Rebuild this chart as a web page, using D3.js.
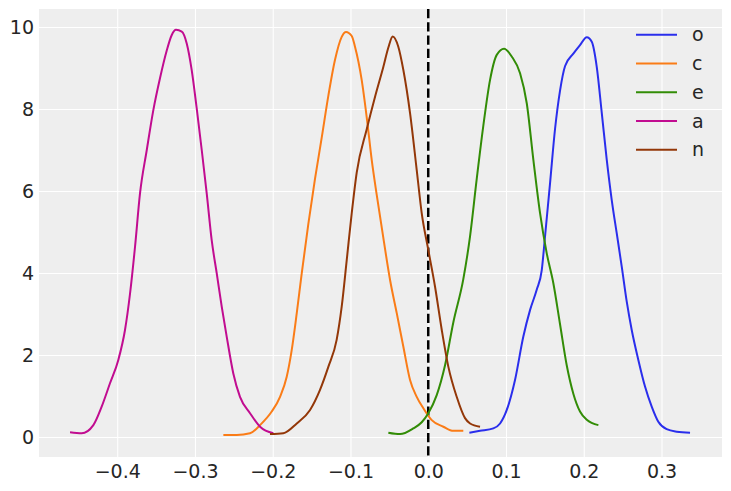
<!DOCTYPE html>
<html>
<head>
<meta charset="utf-8">
<script src="https://cdn.jsdelivr.net/npm/d3@7"></script>
<style>
  body { margin: 0; background: #ffffff; }
  svg { display: block; font-family: "DejaVu Sans", sans-serif; }
</style>
</head>
<body>
<div id="chart"></div>
<script>
var width = 731;
var height = 491;
var margin = {top: 9, right: 9, bottom: 34, left: 39};

// series names and colours (arviz palette)
var names = ["o", "c", "e", "a", "n"];
var colors = ["#2a2eec", "#fa7c17", "#328c06", "#c10c90", "#933708"];

var xTicks = [-0.4, -0.3, -0.2, -0.1, 0.0, 0.1, 0.2, 0.3];
var yTicks = [0, 2, 4, 6, 8, 10];

// kde curves
var oX = [0.0529, 0.0666, 0.0837, 0.0924, 0.101, 0.1116, 0.1223, 0.131, 0.1395, 0.146, 0.1502, 0.1567, 0.163, 0.1695, 0.176, 0.1866, 0.1952, 0.2039, 0.2103, 0.2167, 0.2232, 0.2296, 0.236, 0.2424, 0.2489, 0.2553, 0.2617, 0.2702, 0.2788, 0.2874, 0.2959, 0.3067, 0.3196, 0.3367];
var oY = [0.105, 0.15, 0.21, 0.33, 0.66, 1.39, 2.45, 3.1, 3.59, 4.07, 4.89, 6.2, 7.5, 8.45, 9.05, 9.35, 9.56, 9.75, 9.64, 9.03, 7.9, 6.76, 5.78, 4.97, 4.15, 3.3, 2.61, 1.88, 1.23, 0.74, 0.37, 0.19, 0.13, 0.105];

var cX = [-0.2635, -0.2463, -0.2292, -0.2163, -0.2013, -0.1906, -0.182, -0.1756, -0.1691, -0.1627, -0.1542, -0.1456, -0.137, -0.1285, -0.1199, -0.1113, -0.1057, -0.0984, -0.0942, -0.0856, -0.0792, -0.0727, -0.0662, -0.0577, -0.0491, -0.0405, -0.032, -0.0234, -0.0148, -0.0063, 0.0045, 0.0194, 0.0323, 0.0451];
var cY = [0.05, 0.05, 0.09, 0.29, 0.62, 0.98, 1.47, 2.12, 3.02, 3.99, 5.2, 6.3, 7.3, 8.32, 9.2, 9.76, 9.88, 9.78, 9.52, 8.71, 7.81, 6.76, 5.9, 4.85, 3.83, 3.02, 2.2, 1.39, 0.98, 0.7, 0.41, 0.25, 0.15, 0.15];

var eX = [-0.0513, -0.0363, -0.0192, -0.0084, 0.0001, 0.0109, 0.0216, 0.0323, 0.0451, 0.0538, 0.0624, 0.0709, 0.0795, 0.0881, 0.0975, 0.1074, 0.1181, 0.1267, 0.1352, 0.1438, 0.1524, 0.1609, 0.1695, 0.1781, 0.1867, 0.1952, 0.2039, 0.2188];
var eY = [0.105, 0.07, 0.21, 0.36, 0.58, 1.02, 1.75, 2.8, 3.85, 4.9, 6.3, 7.6, 8.71, 9.32, 9.47, 9.28, 8.87, 8.14, 6.76, 5.46, 4.48, 3.75, 2.75, 1.75, 1.05, 0.62, 0.42, 0.29];

var aX = [-0.4607, -0.4457, -0.4307, -0.42, -0.4093, -0.3986, -0.39, -0.3835, -0.3771, -0.3707, -0.362, -0.3535, -0.345, -0.3364, -0.33, -0.3244, -0.317, -0.3106, -0.3042, -0.2978, -0.2913, -0.2849, -0.2785, -0.272, -0.2656, -0.2592, -0.2507, -0.2421, -0.2292, -0.2163, -0.1992];
var aY = [0.115, 0.09, 0.29, 0.74, 1.31, 1.88, 2.61, 3.5, 4.64, 5.94, 7.0, 7.98, 8.75, 9.42, 9.8, 9.93, 9.89, 9.6, 8.95, 8.02, 7.0, 5.94, 4.8, 3.99, 3.18, 2.45, 1.55, 0.98, 0.58, 0.25, 0.09];

var nX = [-0.2035, -0.1864, -0.1691, -0.152, -0.1392, -0.1285, -0.1178, -0.1113, -0.1048, -0.0984, -0.092, -0.0792, -0.0684, -0.0577, -0.0513, -0.0457, -0.0385, -0.032, -0.0234, -0.0148, -0.0084, 0.0001, 0.0087, 0.0174, 0.0259, 0.0366, 0.0473, 0.0538, 0.0666];
var nY = [0.07, 0.09, 0.33, 0.66, 1.15, 1.71, 2.37, 3.18, 4.32, 5.46, 6.45, 7.5, 8.3, 9.03, 9.5, 9.77, 9.52, 8.95, 7.9, 6.51, 5.46, 4.56, 3.67, 2.61, 1.71, 0.98, 0.46, 0.33, 0.25];

var seriesX = [oX, cX, eX, aX, nX];
var seriesY = [oY, cY, eY, aY, nY];

var svg = d3.select("#chart")
    .append("svg")
    .attr("width", width)
    .attr("height", height);

var plotW = width - margin.left - margin.right;
var plotH = height - margin.top - margin.bottom;

var x = d3.scaleLinear().domain([-0.5006, 0.3778]).range([0, plotW]);
var y = d3.scaleLinear().domain([-0.488, 10.439]).range([plotH, 0]);

var g = svg.append("g")
    .attr("transform", "translate(" + margin.left + "," + margin.top + ")");

g.append("rect")
    .attr("width", plotW)
    .attr("height", plotH)
    .attr("fill", "#eeeeee");

// grid
g.append("g")
    .attr("class", "grid")
    .attr("transform", "translate(0," + plotH + ")")
    .call(d3.axisBottom(x).tickValues(xTicks).tickSize(-plotH).tickFormat(""))
    .call(function(s) { s.select(".domain").remove(); });
g.append("g")
    .attr("class", "grid")
    .call(d3.axisLeft(y).tickValues(yTicks).tickSize(-plotW).tickFormat(""))
    .call(function(s) { s.select(".domain").remove(); });
g.selectAll(".grid line")
    .attr("stroke", "#ffffff")
    .attr("stroke-width", 1.1);

// reference line at zero
g.append("line")
    .attr("x1", x(0)).attr("x2", x(0))
    .attr("y1", 0).attr("y2", plotH)
    .attr("stroke", "#000000")
    .attr("stroke-width", 2.5)
    .attr("stroke-dasharray", "9.25,4");

var line = d3.line()
    .x(function(d) { return x(d[0]); })
    .y(function(d) { return y(d[1]); })
    .curve(d3.curveMonotoneX);

names.forEach(function(name, i) {
    var pts = seriesX[i].map(function(v, j) { return [v, seriesY[i][j]]; });
    g.append("path")
        .datum(pts)
        .attr("fill", "none")
        .attr("stroke", colors[i])
        .attr("stroke-width", 2)
        .attr("stroke-linejoin", "round")
        .attr("d", line);
});

// axes
var xAxis = g.append("g")
    .attr("transform", "translate(0," + plotH + ")")
    .call(d3.axisBottom(x).tickValues(xTicks).tickSize(0).tickPadding(8).tickFormat(d3.format(".1f")));
var yAxis = g.append("g")
    .call(d3.axisLeft(y).tickValues(yTicks).tickSize(0).tickPadding(5).tickFormat(d3.format("d")));
[xAxis, yAxis].forEach(function(a) {
    a.select(".domain").remove();
    a.selectAll("text")
        .attr("fill", "#262626")
        .style("font-size", "19px")
        .style("font-family", "DejaVu Sans");
});

// legend
var legend = svg.append("g")
    .attr("transform", "translate(636,34.7)");
names.forEach(function(name, i) {
    var row = legend.append("g")
        .attr("transform", "translate(0," + (i * 28.75) + ")");
    row.append("line")
        .attr("x1", 0).attr("x2", 41)
        .attr("stroke", colors[i])
        .attr("stroke-width", 2);
    row.append("text")
        .attr("x", 56)
        .attr("dy", "0.35em")
        .attr("fill", "#262626")
        .style("font-size", "19px")
        .text(name);
});
</script>
</body>
</html>
